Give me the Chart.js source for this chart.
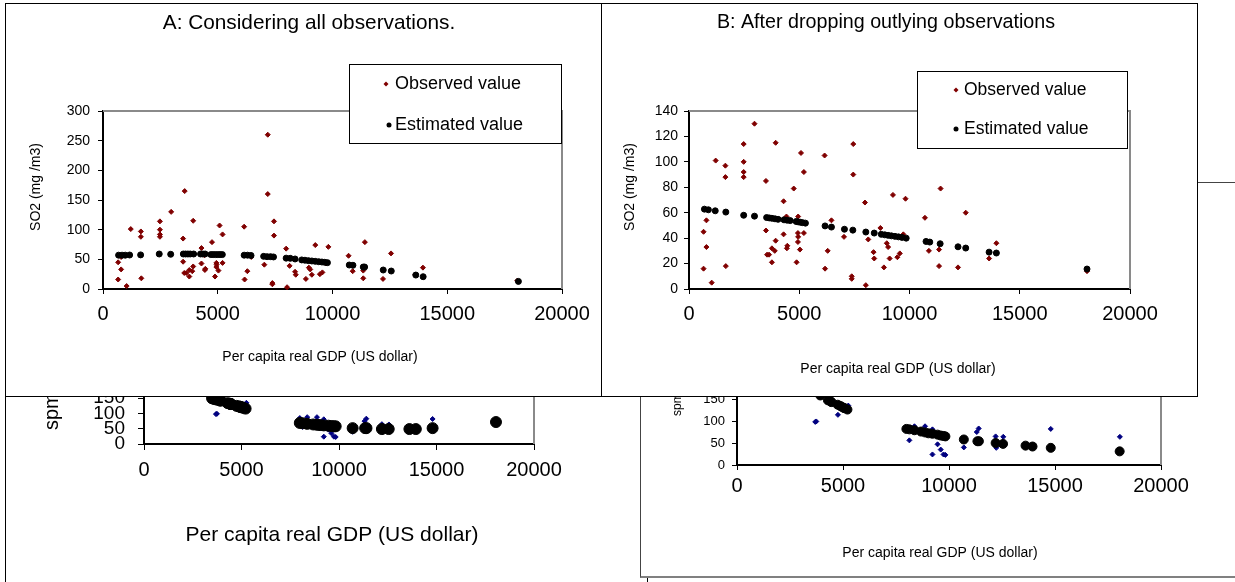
<!DOCTYPE html>
<html>
<head>
<meta charset="utf-8">
<script src="https://cdn.jsdelivr.net/npm/chart.js@4.4.1/dist/chart.umd.min.js"></script>
<style>
  body { margin: 0; background: #fff; }
  #page { position: relative; width: 1235px; height: 582px; overflow: hidden; background: #fff; }
  .box { position: absolute; background: #fff; border: 1px solid #000; }
  .box canvas { display: block; }
</style>
</head>
<body>
<div id="page">
  <div class="box" style="left:5px;top:200px;width:641px;height:400px;z-index:1"><canvas id="chartLL" width="641" height="400"></canvas></div>
  <div class="box" style="left:640px;top:182px;width:620px;height:393px;z-index:2;border-color:#444;border-bottom:2px solid #808080"><canvas id="chartLR" width="620" height="393"></canvas></div>
  <div class="box" style="left:5px;top:3px;width:596px;height:392px;z-index:3"><canvas id="chartA" width="596" height="392"></canvas></div>
  <div class="box" style="left:601px;top:3px;width:595px;height:392px;z-index:4"><canvas id="chartB" width="595" height="392"></canvas></div>
</div>
<script>
const FONT = "'Liberation Sans', Arial, sans-serif";

// SO2 observed (kept in panel B), per capita GDP in US dollar
const obsGdp = [660, 790, 790, 660, 1030, 1210, 1650, 1650, 1670, 2480, 2480, 2480, 2480, 2970,
  3490, 3490, 3540, 3630, 3760, 3760, 3930, 3930, 3890, 4290, 4290, 4420, 4460, 4440,
  4750, 4880, 4950, 4940, 4950, 4940, 5030, 5080, 5210, 5210, 6150, 6170, 6290, 6460,
  7030, 7450, 7450, 7380, 7380, 7980, 8020, 8130, 8370, 8400, 8680, 8840, 8970, 9030,
  9100, 9250, 9450, 9560, 9820, 9720, 10700, 10880, 11410, 11340, 11340, 12200, 12550,
  13610, 13940, 18050];
const obsSo2 = [45, 54, 33, 16, 5, 101, 97, 88, 18, 114, 100, 92, 88, 130,
  85, 46, 27, 27, 32, 21, 115, 38, 30, 69, 43, 57, 34, 32,
  79, 21, 57, 44, 41, 37, 31, 107, 92, 44, 105, 16, 30, 54,
  41, 114, 90, 10, 8, 68, 3, 39, 29, 24, 48, 17, 36, 33,
  24, 74, 25, 28, 71, 43, 56, 30, 79, 31, 18, 17, 60,
  24, 36, 14];

// outlying observations (only in panel A)
const outGdp = [3560, 7180, 7180];
const outSo2 = [165, 260, 160];

// estimated SO2, all observations
const estAGdp = [680, 830, 970, 1160, 1640, 2450, 2950, 3500, 3600, 3700, 3800, 3950, 4250, 4350, 4450,
  4700, 4800, 4900, 5000, 5100, 5200, 6150, 6300, 6450, 7000, 7150, 7300, 7430, 7980, 8160,
  8370, 8660, 8800, 8950, 9100, 9250, 9400, 9540, 9660, 9780, 10730, 10890, 11340, 11400,
  12210, 12560, 13630, 13950, 18100];
const estASo2 = [57, 57, 57, 57.3, 57.5, 59, 58.5, 59, 59, 59, 59, 59, 59, 59, 59,
  58, 58, 58, 58, 58, 58, 57, 57, 56.5, 55, 54.5, 54.5, 54, 52, 51.7,
  50.6, 49, 48.5, 47.8, 47.2, 46.6, 46, 45.5, 45, 44.4, 40.4, 40, 37, 37,
  32, 30.3, 23.5, 20.7, 12.8];

// estimated SO2, outliers dropped
const estBGdp = [700, 880, 1190, 1670, 2480, 2970, 3520, 3640, 3760, 3900, 4040, 4310, 4450, 4590,
  4860, 4950, 5050, 5150, 5280, 6170, 6460, 7050, 7430, 8020, 8400, 8720, 8880, 9030, 9180,
  9340, 9500, 9660, 9850, 10750, 10920, 11390, 12200, 12550, 13610, 13940, 18050];
const estBSo2 = [62.8, 62.3, 61.5, 60.5, 58, 57.3, 56.2, 55.9, 55.6, 55.2, 54.8, 54.4, 54.1, 53.8,
  53.1, 52.8, 52.5, 52.2, 51.8, 49.6, 48.7, 47, 46.3, 44.8, 44, 43, 42.6, 42.2, 41.8,
  41.4, 41, 40.6, 40, 37.4, 36.9, 35.6, 33.2, 32.2, 29, 28.3, 15.7];

// spm charts underneath (only the lower part shows)
const spmGdp = [3690, 3740, 4760, 5250, 7990, 8130, 8370, 8870, 9220, 9220, 9460, 9610, 9740, 9830,
  10700, 11310, 11400, 12200, 12230, 12560, 14800, 18060];
const spmObs = [98, 99, 114, 135, 85, 56, 88, 88, 81, 24, 47, 35, 24, 23,
  40, 75, 83, 65, 39, 64, 82, 64];

const spmEstAGdp = [3490, 3540, 3630, 3760, 3890, 3930, 4290, 4420, 4440, 4460, 4750, 4880, 4940, 4950,
  5030, 5080, 5210, 7990, 8130, 8370, 8680, 8870, 9030, 9220, 9460, 9610, 9740, 9830,
  10700, 11340, 11410, 12200, 12550, 13610, 13940, 14800, 18050];
const spmEstA = [150, 149, 147, 145, 143, 142, 134, 132, 131, 131, 125, 123, 122, 121,
  120, 119, 116, 69, 68, 66, 64, 63, 62, 61, 60, 59, 58, 58,
  52, 52, 52, 49, 49, 49, 49, 52, 72];

const spmEstBGdp = [3930, 4290, 4420, 4460, 4750, 4880, 4950, 5030, 5080, 5210, 7990, 8130, 8370, 8680,
  8870, 9030, 9220, 9460, 9610, 9740, 9830, 10700, 11340, 11410, 12200, 12550, 13610, 13940,
  14800, 18050];
const spmEstB = [158, 147, 144, 143, 137, 134, 132, 130, 129, 126, 82, 81, 79, 76,
  74, 72, 71, 69, 67, 66, 65, 58, 54, 54, 50, 48, 44, 42,
  39, 31];

const xMax = 20000, xStep = 5000;
const xTitle = 'Per capita real GDP (US dollar)';

const pts = (xs, ys) => xs.map((x, i) => ({ x: x, y: ys[i] }));

function obsSet(data, color, r) {
  return { label: 'Observed value', data: data, pointStyle: 'rectRot', pointRadius: r,
    pointBackgroundColor: color, pointBorderColor: color, pointBorderWidth: 1,
    backgroundColor: color, borderColor: color, order: 1, clip: false };
}
function estSet(data, r) {
  return { label: 'Estimated value', data: data, pointStyle: 'circle', pointRadius: r,
    pointBackgroundColor: '#000', pointBorderColor: '#000', pointBorderWidth: 1,
    backgroundColor: '#000', borderColor: '#000', order: 0, clip: false };
}

function marker(ctx, style, x, y, r, color) {
  ctx.fillStyle = color;
  ctx.beginPath();
  if (style === 'rectRot') {
    ctx.moveTo(x, y - r); ctx.lineTo(x + r, y); ctx.lineTo(x, y + r); ctx.lineTo(x - r, y);
    ctx.closePath();
  } else {
    ctx.arc(x, y, r, 0, Math.PI * 2);
  }
  ctx.fill();
}

// grey plot frame, free texts and the boxed legend
const panelPlugin = {
  id: 'panel',
  beforeDatasetsDraw(chart) {
    const ctx = chart.ctx, a = chart.chartArea;
    ctx.save();
    ctx.strokeStyle = '#8a8a8a';
    ctx.lineWidth = 2;
    ctx.beginPath();
    ctx.moveTo(a.left, a.top);
    ctx.lineTo(a.right, a.top);
    ctx.lineTo(a.right, a.bottom);
    ctx.stroke();
    ctx.restore();
  },
  afterDraw(chart, args, opts) {
    const ctx = chart.ctx;
    ctx.save();
    (opts.texts || []).forEach(t => {
      ctx.save();
      ctx.translate(t.x, t.y);
      if (t.rot) ctx.rotate(t.rot * Math.PI / 180);
      ctx.font = t.size + 'px ' + FONT;
      ctx.fillStyle = '#000';
      ctx.textAlign = t.align || 'center';
      ctx.textBaseline = t.baseline || 'middle';
      ctx.fillText(t.text, 0, 0);
      ctx.restore();
    });
    const lg = opts.legend;
    if (lg) {
      ctx.fillStyle = '#fff';
      ctx.fillRect(lg.x, lg.y, lg.w, lg.h);
      ctx.strokeStyle = '#000';
      ctx.lineWidth = 1;
      ctx.strokeRect(lg.x + 0.5, lg.y + 0.5, lg.w, lg.h);
      lg.items.forEach(it => {
        const ds = chart.data.datasets[it.ds];
        marker(ctx, ds.pointStyle, it.mx, it.y, it.r, ds.backgroundColor);
        ctx.fillStyle = '#000';
        ctx.font = lg.size + 'px ' + FONT;
        ctx.textAlign = 'left';
        ctx.textBaseline = 'middle';
        ctx.fillText(ds.label, it.tx, it.y);
      });
    }
    ctx.restore();
  }
};

function makeChart(id, cfg) {
  const canvas = document.getElementById(id);
  const W = canvas.width, H = canvas.height;
  const a = cfg.area;
  return new Chart(canvas, {
    type: 'scatter',
    data: { datasets: cfg.datasets },
    options: {
      responsive: false,
      animation: false,
      devicePixelRatio: 1,
      layout: { padding: { left: 0, top: a.top, right: W - a.right, bottom: 0 } },
      plugins: {
        legend: { display: false },
        tooltip: { enabled: false },
        panel: { texts: cfg.texts, legend: cfg.legend }
      },
      scales: {
        x: {
          type: 'linear', min: 0, max: xMax,
          ticks: { stepSize: xStep, autoSkip: false, maxRotation: 0, color: '#000',
            font: { family: FONT, size: cfg.xFont }, padding: cfg.xPad, callback: v => String(v) },
          grid: { drawOnChartArea: false, color: '#000', tickLength: cfg.tick },
          border: { color: '#000', width: 2 },
          afterFit: s => { s.height = H - a.bottom; }
        },
        y: {
          type: 'linear', min: 0, max: cfg.yMax,
          ticks: { stepSize: cfg.yStep, autoSkip: false, color: '#000',
            font: { family: FONT, size: cfg.yFont }, padding: cfg.yPad, callback: v => String(v) },
          grid: { drawOnChartArea: false, color: '#000', tickLength: cfg.tick },
          border: { color: '#000', width: 2 },
          afterFit: s => { s.width = a.left; }
        }
      }
    },
    plugins: [panelPlugin]
  });
}

// lower left: spm, all observations (mostly hidden)
makeChart('chartLL', {
  area: { left: 138, top: 60, right: 528, bottom: 243 },
  yMax: 600, yStep: 50, yFont: 19, yPad: 13, xFont: 20, xPad: 8, tick: 6,
  datasets: [obsSet(pts(spmGdp, spmObs), '#000080', 2.5), estSet(pts(spmEstAGdp, spmEstA), 5.5)],
  texts: [
    { text: 'spm (mg /m3)', x: 52, y: 229, size: 20, rot: -90, align: 'left', baseline: 'alphabetic' },
    { text: xTitle, x: 326, y: 334, size: 21 }
  ]
});

// lower right: spm, outliers dropped (mostly hidden)
makeChart('chartLR', {
  area: { left: 96, top: 106, right: 520, bottom: 282 },
  yMax: 400, yStep: 50, yFont: 13, yPad: 7, xFont: 20, xPad: 4, tick: 5,
  datasets: [obsSet(pts(spmGdp, spmObs), '#000080', 2.5), estSet(pts(spmEstBGdp, spmEstB), 4.5)],
  texts: [
    { text: 'spm (mg /m3)', x: 40, y: 233, size: 12, rot: -90, align: 'left', baseline: 'alphabetic' },
    { text: xTitle, x: 299, y: 370, size: 14 }
  ]
});

// A: all observations
makeChart('chartA', {
  area: { left: 97, top: 107, right: 556, bottom: 285 },
  yMax: 300, yStep: 50, yFont: 14, yPad: 8, xFont: 20, xPad: 8, tick: 5,
  datasets: [obsSet(pts(obsGdp.concat(outGdp), obsSo2.concat(outSo2)), '#800000', 2.5),
             estSet(pts(estAGdp, estASo2), 3)],
  texts: [
    { text: 'A: Considering all observations.', x: 303, y: 19, size: 20.8 },
    { text: 'SO2 (mg /m3)', x: 30, y: 183, size: 14, rot: -90 },
    { text: xTitle, x: 314, y: 353, size: 14 }
  ],
  legend: { x: 343, y: 60, w: 212, h: 79, size: 18, items: [
    { ds: 0, mx: 380, tx: 389, y: 80, r: 2.5 },
    { ds: 1, mx: 383, tx: 389, y: 121, r: 2.5 }
  ] }
});

// B: after dropping outlying observations
makeChart('chartB', {
  area: { left: 87, top: 107, right: 528, bottom: 285 },
  yMax: 140, yStep: 20, yFont: 14, yPad: 6, xFont: 20, xPad: 8, tick: 5,
  datasets: [obsSet(pts(obsGdp, obsSo2), '#800000', 2.5), estSet(pts(estBGdp, estBSo2), 3)],
  texts: [
    { text: 'B: After dropping outlying observations', x: 284, y: 19, size: 19.7 },
    { text: 'SO2 (mg /m3)', x: 28, y: 183, size: 14, rot: -90 },
    { text: xTitle, x: 296, y: 365, size: 14 }
  ],
  legend: { x: 315, y: 67, w: 210, h: 77, size: 17.5, items: [
    { ds: 0, mx: 354, tx: 362, y: 86, r: 2.5 },
    { ds: 1, mx: 354, tx: 362, y: 125, r: 2.5 }
  ] }
});
</script>
</body>
</html>
